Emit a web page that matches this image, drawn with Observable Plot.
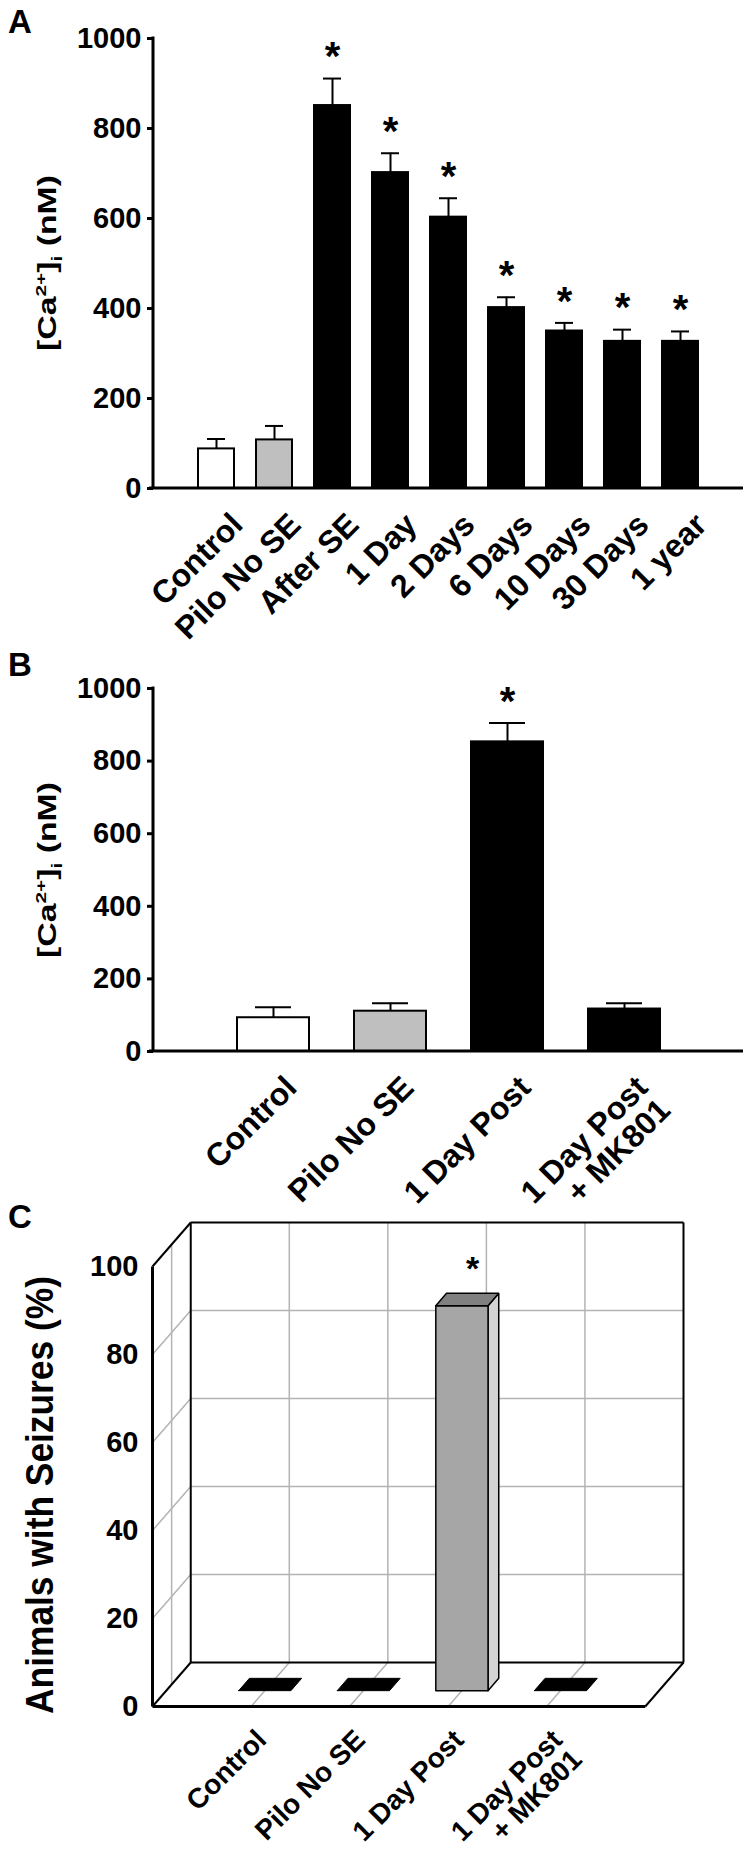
<!DOCTYPE html>
<html>
<head>
<meta charset="utf-8">
<script src="https://cdn.jsdelivr.net/npm/d3@7"></script>
<script src="https://cdn.jsdelivr.net/npm/@observablehq/plot@0.6"></script>
<style>
  html, body { margin: 0; padding: 0; background: #fff; }
  #root { position: relative; width: 750px; height: 1854px; background: #fff; overflow: hidden; color: #000; }
  .panel { position: absolute; left: 0; width: 750px; }
  .panel svg { display: block; overflow: visible; }
  .letter { position: absolute; left: 8px; font: bold 33px/33px "Liberation Sans", Arial, sans-serif; }
  .ytitle { position: absolute; white-space: nowrap; font-family: "Liberation Sans", Arial, sans-serif; font-weight: bold; line-height: 1; }
  .ytitle sup, .ytitle sub { font-size: 62%; line-height: 0; }
</style>
</head>
<body>
<div id="root"></div>
<script>
// ---------- Panel A data ----------
const catsA = ["Control", "Pilo No SE", "After SE", "1 Day", "2 Days", "6 Days", "10 Days", "30 Days", "1 year"];
const caA = [88, 108, 851, 702, 603, 402, 350, 327, 327];
const semA = [22, 31, 60, 43, 42, 23, 18, 26, 22];
const groupA = ["control", "pilo", "se", "se", "se", "se", "se", "se", "se"];
const sigA = [false, false, true, true, true, true, true, true, true];

// ---------- Panel B data ----------
const catsB = ["Control", "Pilo No SE", "1 Day Post", "1 Day Post\n+ MK801"];
const caB = [93, 111, 853, 117];
const semB = [29, 22, 52, 16];
const groupB = ["control", "pilo", "se", "se"];
const sigB = [false, false, true, false];

// ---------- Panel C data ----------
const catsC = ["Control", "Pilo No SE", "1 Day Post", "1 Day Post\n+ MK801"];
const seizC = [0, 0, 87.5, 0];
const sigC = [false, false, true, false];

// ---------- tick labels ----------
const ticksCa = [0, 200, 400, 600, 800, 1000];
const ticksC = [0, 20, 40, 60, 80, 100];

const fillGroups = ["control", "pilo", "se"];
const fillColors = ["#ffffff", "#bfbfbf", "#000000"];

const root = document.getElementById("root");
const FONT = '"Liberation Sans", Arial, sans-serif';
const plotStyle = {fontFamily: FONT, fontSize: "29px", fontWeight: "bold", background: "transparent", color: "black", overflow: "visible"};

function addPanel(top, svg) {
  const d = document.createElement("div");
  d.className = "panel";
  d.style.top = top + "px";
  d.appendChild(svg);
  root.appendChild(d);
}
function addLetter(txt, top) {
  const d = document.createElement("div");
  d.className = "letter";
  d.textContent = txt;
  d.style.top = top + "px";
  root.appendChild(d);
}
function addTitle(html, cx, cy, size, stretch) {
  const d = document.createElement("div");
  d.className = "ytitle";
  d.innerHTML = html;
  d.style.fontSize = size + "px";
  d.style.left = cx + "px";
  d.style.top = cy + "px";
  d.style.transform = `translate(-50%, -50%) rotate(-90deg) scaleX(${stretch})`;
  root.appendChild(d);
}

function caPanel(o) {
  const data = o.cats.map((cat, i) => ({cat, v: o.vals[i], e: o.sem[i], g: o.groups[i], s: o.sig[i]}));
  const axisLines = (index, scales, values, dims) => {
    const g = d3.create("svg:g").attr("stroke", "black").attr("stroke-width", 3);
    const x0 = dims.marginLeft, x1 = dims.width - dims.marginRight;
    const y0 = scales.y(0), yTop = scales.y(d3.max(ticksCa));
    g.append("line").attr("x1", x0).attr("x2", x0).attr("y1", yTop - 1.5).attr("y2", y0);
    g.append("line").attr("x1", x0 - 4).attr("x2", x1).attr("y1", y0).attr("y2", y0);
    return g.node();
  };
  return Plot.plot({
    width: 750, height: o.height,
    marginLeft: 153, marginRight: 7, marginTop: o.marginTop, marginBottom: o.marginBottom,
    style: plotStyle,
    x: {type: "band", domain: o.cats, paddingInner: o.paddingInner, paddingOuter: o.paddingOuter, axis: null},
    y: {domain: [0, 1000]},
    color: {domain: fillGroups, range: fillColors},
    marks: [
      Plot.barY(data, {x: "cat", y: "v", fill: "g", stroke: "black", strokeWidth: 2}),
      Plot.ruleX(data, {x: "cat", y1: "v", y2: d => d.v + d.e, strokeWidth: 2}),
      Plot.tickY(data, {x: "cat", y: d => d.v + d.e, strokeWidth: 2, inset: o.capInset}),
      Plot.text(data.filter(d => d.s), {x: "cat", y: d => d.v + d.e, text: () => "*", fontSize: 40, lineAnchor: "middle", dy: -21}),
      Plot.text(data, {x: "cat", y: () => 0, text: "cat", rotate: -45, textAnchor: "end", lineAnchor: "top", dx: o.labelDx, dy: 22, fontSize: 32}),
      Plot.axisY({ticks: ticksCa, tickSize: 6, tickPadding: 6, tickFormat: d3.format("d"), strokeWidth: 3, label: null}),
      axisLines
    ]
  });
}

// Panel A
addLetter("A", 5);
addPanel(0, caPanel({cats: catsA, vals: caA, sem: semA, groups: groupA, sig: sigA,
  height: 640, marginTop: 38, marginBottom: 152, paddingInner: 0.385, paddingOuter: 0.73, capInset: 9, labelDx: 12}));
addTitle("[Ca<sup>2+</sup>]<sub>i</sub> (nM)", 47, 263, 25, 1.35);

// Panel B
addLetter("B", 648);
addPanel(640, caPanel({cats: catsB, vals: caB, sem: semB, groups: groupB, sig: sigB,
  height: 540, marginTop: 48, marginBottom: 129, paddingInner: 0.387, paddingOuter: 0.704, capInset: 18, labelDx: 9}));
addTitle("[Ca<sup>2+</sup>]<sub>i</sub> (nM)", 47, 870, 25, 1.35);

// Panel C (oblique 3-D bar chart)
const DX = 0.388, DY = 10; // depth offset of the back wall, in slot and value units
const nSlots = catsC.length + 1;
const topC = d3.max(ticksC);
const proj = ([c, v, d]) => ({x: c + d * DX, y: v + d * DY});
let pid = 0;
const shape = pts => { const id = pid++; return [...pts, pts[0]].map(p => ({...proj(p), id})); };
const seg = (a, b) => { const p = proj(a), q = proj(b); return {x1: p.x, y1: p.y, x2: q.x, y2: q.y}; };

const walls = [
  shape([[0, 0, 0], [nSlots, 0, 0], [nSlots, 0, 1], [0, 0, 1]]),
  shape([[0, 0, 1], [nSlots, 0, 1], [nSlots, topC, 1], [0, topC, 1]]),
  shape([[0, 0, 0], [0, 0, 1], [0, topC, 1], [0, topC, 0]])
].flat();
const inner = ticksC.filter(v => v > 0 && v < topC);
const grid = [
  ...inner.flatMap(v => [seg([0, v, 1], [nSlots, v, 1]), seg([0, v, 0], [0, v, 1])]),
  ...d3.range(1, nSlots).flatMap(c => [seg([c, 0, 1], [c, topC, 1]), seg([c, 0, 0], [c, 0, 1])]),
  seg([0, 0, 0.5], [0, topC, 0.5])
];
const edgesThin = [
  seg([0, 0, 1], [0, topC, 1]), seg([0, topC, 1], [nSlots, topC, 1]), seg([nSlots, topC, 1], [nSlots, 0, 1]),
  seg([0, 0, 1], [nSlots, 0, 1]), seg([0, topC, 0], [0, topC, 1]), seg([0, 0, 0], [0, 0, 1]), seg([nSlots, 0, 0], [nSlots, 0, 1])
];
const edgesThick = [seg([0, 0, 0], [0, topC, 0]), seg([0, 0, 0], [nSlots, 0, 0])];
const W = 0.265, D0 = 0.36, D1 = 0.64;
const fronts = [], sides = [], tops = [], flats = [];
seizC.forEach((v, i) => {
  const c = i + 1;
  if (v > 0) {
    fronts.push(...shape([[c - W, 0, D0], [c + W, 0, D0], [c + W, v, D0], [c - W, v, D0]]));
    sides.push(...shape([[c + W, 0, D0], [c + W, 0, D1], [c + W, v, D1], [c + W, v, D0]]));
    tops.push(...shape([[c - W, v, D0], [c + W, v, D0], [c + W, v, D1], [c - W, v, D1]]));
  } else {
    flats.push(...shape([[c - W, 0, D0], [c + W, 0, D0], [c + W, 0, D1], [c - W, 0, D1]]));
  }
});
const starsC = seizC.map((v, i) => ({i, v})).filter(d => sigC[d.i]);
const L = {x1: "x1", y1: "y1", x2: "x2", y2: "y2"};
const P = {x: "x", y: "y", z: "id"};

addLetter("C", 1200);
addPanel(1180, Plot.plot({
  width: 750, height: 674, marginLeft: 152, marginRight: 67, marginTop: 42, marginBottom: 148,
  style: plotStyle,
  x: {domain: [0, nSlots + DX], axis: null},
  y: {domain: [0, topC + DY]},
  marks: [
    Plot.line(walls, {...P, fill: "white", stroke: "none"}),
    Plot.link(grid, {...L, stroke: "#b3b3b3", strokeWidth: 1.5}),
    Plot.link(edgesThin, {...L, stroke: "black", strokeWidth: 2}),
    Plot.link(edgesThick, {...L, stroke: "black", strokeWidth: 3}),
    Plot.line(flats, {...P, fill: "black", stroke: "black", strokeWidth: 1}),
    Plot.line(sides, {...P, fill: "#d4d4d4", stroke: "black", strokeWidth: 1.5, strokeLinejoin: "miter"}),
    Plot.line(fronts, {...P, fill: "#a6a6a6", stroke: "black", strokeWidth: 1.5, strokeLinejoin: "miter"}),
    Plot.line(tops, {...P, fill: "#808080", stroke: "black", strokeWidth: 1.5, strokeLinejoin: "miter"}),
    Plot.text(starsC, {x: d => proj([d.i + 1, d.v, D1]).x, y: d => proj([d.i + 1, d.v, D1]).y, text: () => "*", fontSize: 34, lineAnchor: "middle", dy: -24}),
    Plot.text(catsC, {x: (d, i) => i + 1, y: () => 0, text: d => d, rotate: -45, textAnchor: "end", lineAnchor: "top", dx: 3, dy: 21, fontSize: 28}),
    Plot.axisY({ticks: ticksC, tickSize: 0, tickPadding: 14, tickFormat: d3.format("d"), label: null})
  ]
}));
addTitle("Animals with Seizures (%)", 40, 1495, 38, 0.93);
</script>
</body>
</html>
